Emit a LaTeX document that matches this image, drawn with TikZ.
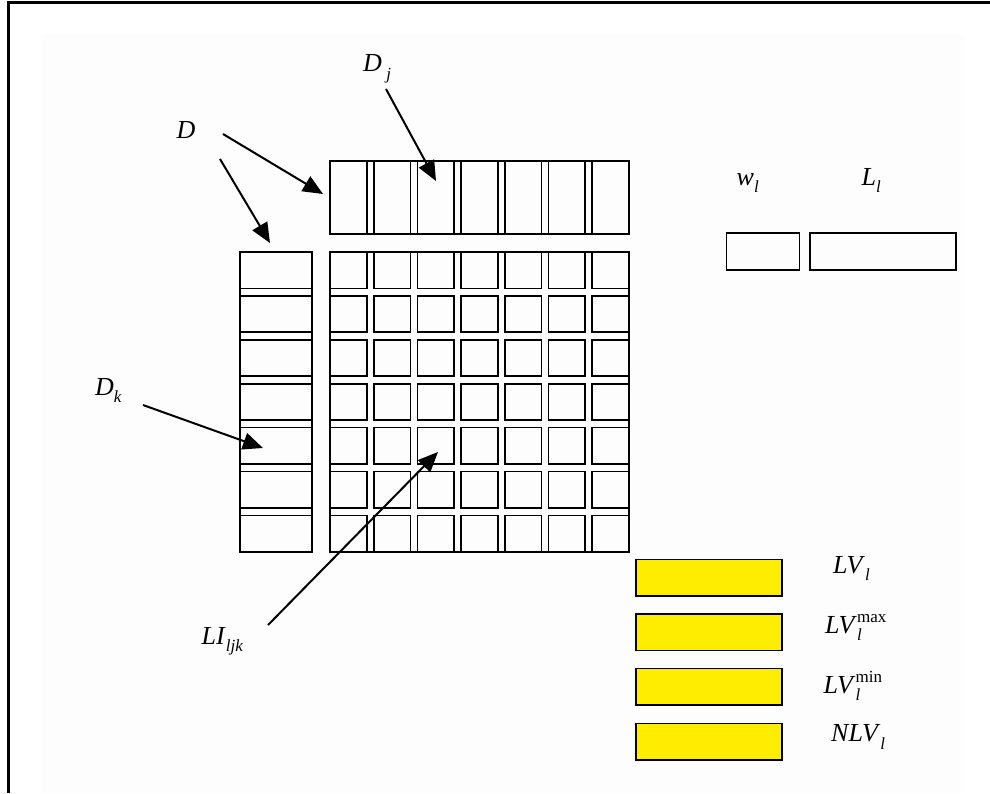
\documentclass[tikz,border=0pt]{standalone}
\usepackage{fontspec}
\setmainfont{Liberation Serif}
\usetikzlibrary{arrows.meta}
\definecolor{boxyellow}{RGB}{255,237,0}
\definecolor{faintbg}{RGB}{253,253,253}
\newcommand\subl[1]{\raisebox{-0.3em}{\fontsize{17}{17}\selectfont\textit{#1}}}
\newcommand\subsup[2]{\rlap{\raisebox{-0.3em}{\fontsize{17}{17}\selectfont\textit{#1}}}\raisebox{0.42em}{\fontsize{17}{17}\selectfont #2}}
\begin{document}
\begin{tikzpicture}[x=1pt,y=-1pt,
  cell/.style={draw,line width=1.6pt,inner sep=0,outer sep=0,anchor=north west},
  ybox/.style={cell,fill=boxyellow},
  lbl/.style={inner sep=0,anchor=base west,font=\fontsize{26}{30}\selectfont},
  arr/.style={line width=2pt,-{Triangle[length=20pt,width=17pt]}}]
\useasboundingbox (0,0) rectangle (990,793);
\fill[faintbg] (41,34) rectangle (964,793);
\draw[line width=3pt] (8,793) -- (8,2) -- (990,2);
% top row D_j
\node[cell,minimum width=299pt,minimum height=73pt] (top) at (330,161) {};
\foreach \i in {0,...,6}{
  \node[cell,minimum width=36.7pt,minimum height=73pt] (t\i) at ({330+43.7*\i},161) {};
}
% left column D_k
\node[cell,minimum width=72pt,minimum height=299.7pt] (left) at (240,252) {};
\foreach \j in {0,...,6}{
  \node[cell,minimum width=72pt,minimum height=36.3pt] (k\j) at (240,{252+43.9*\j}) {};
}
% grid
\node[cell,minimum width=299pt,minimum height=299.7pt] (grid) at (330,252) {};
\foreach \i in {0,...,6}{
  \foreach \j in {0,...,6}{
    \node[cell,minimum width=36.7pt,minimum height=36.3pt] (c\i\j) at ({330+43.7*\i},{252+43.9*\j}) {};
  }
}
% w_l and L_l boxes
\node[cell,minimum width=73pt,minimum height=37pt] (wbox) at (726.5,233) {};
\node[cell,minimum width=146pt,minimum height=37pt] (Lbox) at (810,233) {};
% yellow boxes
\node[ybox,minimum width=146pt,minimum height=36.5pt] (y1) at (635.7,559.3) {};
\node[ybox,minimum width=146pt,minimum height=36.5pt] (y2) at (635.7,614) {};
\node[ybox,minimum width=146pt,minimum height=36.5pt] (y3) at (635.7,668.5) {};
\node[ybox,minimum width=146pt,minimum height=36.5pt] (y4) at (635.7,723.3) {};
% labels
\node[lbl] (lD) at (176.5,138) {\textit{D}};
\node[lbl] (lDj) at (363,71.5) {\textit{D}\,\subl{j}};
\node[lbl] (lDk) at (95,395) {\textit{D}\subl{k}};
\node[lbl] (lLI) at (201.5,644) {\textit{LI}\subl{ljk}};
\node[lbl] (lw) at (736.5,185) {\textit{w}\subl{l}};
\node[lbl] (lL) at (861.5,185) {\textit{L}\subl{l}};
\node[lbl] (lLV) at (833,573) {\textit{LV}\subl{l}};
\node[lbl] (lLVmax) at (825,633) {\textit{LV}\subsup{l}{max}};
\node[lbl] (lLVmin) at (823.5,693) {\textit{LV}\subsup{l}{min}};
\node[lbl] (lNLV) at (831,741.5) {\textit{NLV}\subl{l}};
% arrow ends
\coordinate (sD1) at (223,134);
\coordinate (sD2) at (220,159);
\coordinate (sDj) at (386,89);
\coordinate (sDk) at (143,405);
\coordinate (sLI) at (268,625);
\coordinate (eD1) at (323,194);
\coordinate (eD2) at (270,243);
\coordinate (eDj) at (436,181);
\coordinate (eDk) at (263,448);
\coordinate (eLI) at (438,452);
\draw[arr] (sD1) -- (eD1);
\draw[arr] (sD2) -- (eD2);
\draw[arr] (sDj) -- (eDj);
\draw[arr] (sDk) -- (eDk);
\draw[arr] (sLI) -- (eLI);
\end{tikzpicture}
\end{document}
